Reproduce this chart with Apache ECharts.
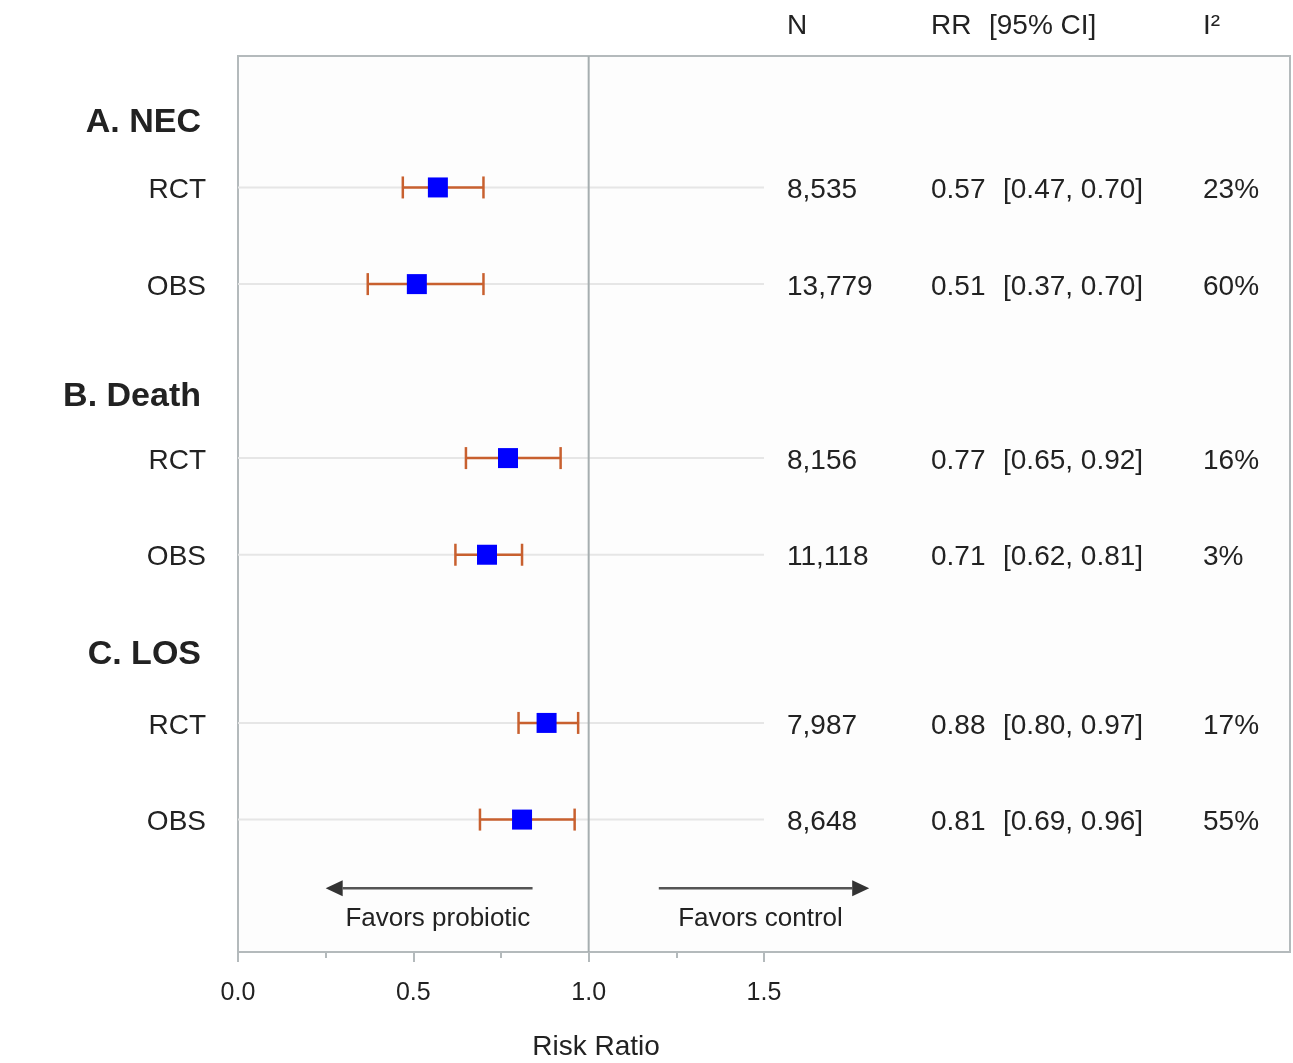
<!DOCTYPE html>
<html>
<head>
<meta charset="utf-8">
<title>Probiotics forest plot</title>
<script src="https://cdn.jsdelivr.net/npm/echarts@6/dist/echarts.min.js"></script>
<style>
html, body { margin: 0; padding: 0; background: #fff; }
#chart { width: 1293px; height: 1063px; }
</style>
</head>
<body>
<div id="chart"></div>
<script>
// data
var groupNames = ['A. NEC', 'B. Death', 'C. LOS'];
var studyTypes = ['RCT', 'OBS', 'RCT', 'OBS', 'RCT', 'OBS'];
var rrValues = [0.57, 0.51, 0.77, 0.71, 0.88, 0.81];
var ciLower = [0.47, 0.37, 0.65, 0.62, 0.80, 0.69];
var ciUpper = [0.70, 0.70, 0.92, 0.81, 0.97, 0.96];
var nValues = ['8,535', '13,779', '8,156', '11,118', '7,987', '8,648'];
var i2Values = ['23%', '60%', '16%', '3%', '17%', '55%'];
var xTickValues = [0, 0.5, 1.0, 1.5];
var xMinorTickValues = [0.25, 0.75, 1.25];
var nullValue = 1.0;
var arrowFrom = [0.84, 1.20];
var arrowTo = [0.25, 1.80];
var arrowLabels = ['Favors probiotic', 'Favors control'];

// layout: row slots down the plot (row units), text columns (px)
var rowSlots = [1.36, 2.36, 4.16, 5.16, 6.90, 7.90];
var groupSlots = [0.67, 3.50, 6.17];
var arrowSlot = 8.61;
var arrowLabelAt = [0.57, 1.49];
var yMax = 9.27;
var colN = 787, colRR = 931, colCI = 1003, colI2 = 1203;

var FONT = '"Liberation Sans", Arial, sans-serif';
var textColor = '#222';
var errColor = '#c8602f';
var boxColor = '#b4babc';

function fmt(v) { return v.toFixed(2); }

var rowData = [];
for (var i = 0; i < rrValues.length; i++) {
    rowData.push([rrValues[i], ciLower[i], ciUpper[i], rowSlots[i]]);
}
var groupData = [];
for (var g = 0; g < groupNames.length; g++) {
    groupData.push([0, groupSlots[g]]);
}
var arrowData = [];
for (var a = 0; a < arrowFrom.length; a++) {
    arrowData.push([arrowFrom[a], arrowTo[a], arrowSlot, arrowLabelAt[a]]);
}

function txt(x, y, s, size, align, weight) {
    return {
        type: 'text',
        style: {
            x: x, y: y, text: s, fill: textColor,
            font: (weight || 'normal') + ' ' + size + 'px ' + FONT,
            align: align || 'left', verticalAlign: 'middle'
        }
    };
}

function renderRow(params, api) {
    var i = params.dataIndex;
    var y = api.coord([0, api.value(3)])[1];
    var x0 = api.coord([0, 0])[0];
    var xEnd = api.coord([1.5, 0])[0];
    var xm = api.coord([api.value(0), 0])[0];
    var xLo = api.coord([api.value(1), 0])[0];
    var xHi = api.coord([api.value(2), 0])[0];
    var lineStyle = { stroke: errColor, lineWidth: 2.5 };
    var sq = 20, cap = 11;
    return {
        type: 'group',
        children: [
            { type: 'line', shape: { x1: x0, y1: y, x2: xEnd, y2: y }, style: { stroke: '#e6e6e6', lineWidth: 2 } },
            { type: 'line', shape: { x1: xLo, y1: y, x2: xHi, y2: y }, style: lineStyle },
            { type: 'line', shape: { x1: xLo, y1: y - cap, x2: xLo, y2: y + cap }, style: lineStyle },
            { type: 'line', shape: { x1: xHi, y1: y - cap, x2: xHi, y2: y + cap }, style: lineStyle },
            { type: 'rect', shape: { x: xm - sq / 2, y: y - sq / 2, width: sq, height: sq }, style: { fill: '#0000ff' } },
            txt(x0 - 32, y + 3, studyTypes[i], 28, 'right'),
            txt(colN, y + 3, nValues[i], 28),
            txt(colRR, y + 3, fmt(rrValues[i]), 28),
            txt(colCI, y + 3, '[' + fmt(ciLower[i]) + ', ' + fmt(ciUpper[i]) + ']', 28),
            txt(colI2, y + 3, i2Values[i], 28)
        ]
    };
}

function renderGroup(params, api) {
    var p = api.coord([api.value(0), api.value(1)]);
    return txt(p[0] - 37, p[1] + 2, groupNames[params.dataIndex], 34, 'right', 'bold');
}

function renderArrow(params, api) {
    var from = api.coord([api.value(0), api.value(2)]);
    var to = api.coord([api.value(1), api.value(2)]);
    var labelX = api.coord([api.value(3), api.value(2)])[0];
    var dir = to[0] > from[0] ? 1 : -1;
    var head = 17, hw = 8;
    var y = from[1];
    return {
        type: 'group',
        children: [
            { type: 'line', shape: { x1: from[0], y1: y, x2: to[0] - dir * head, y2: y }, style: { stroke: '#555', lineWidth: 2.5 } },
            { type: 'polygon', shape: { points: [[to[0], y], [to[0] - dir * head, y - hw], [to[0] - dir * head, y + hw]] }, style: { fill: '#333' } },
            txt(labelX, y + 31, arrowLabels[params.dataIndex], 26, 'center')
        ]
    };
}

var chart = echarts.init(document.getElementById('chart'));
chart.setOption({
    backgroundColor: '#ffffff',
    animation: false,
    grid: {
        left: 238, right: 3, top: 56, bottom: 111,
        show: true, borderColor: boxColor, borderWidth: 2, backgroundColor: '#fdfdfd'
    },
    xAxis: [
        {
            type: 'value', min: 0, max: 3, position: 'bottom',
            axisLine: { show: true, onZero: false, lineStyle: { color: boxColor, width: 2 } },
            axisTick: { show: true, customValues: xTickValues, length: 10, lineStyle: { color: boxColor, width: 2 } },
            axisLabel: {
                show: true, customValues: xTickValues, margin: 29,
                fontSize: 25, fontFamily: FONT, color: textColor,
                formatter: function (v) { return v.toFixed(1); }
            },
            splitLine: { show: false }
        },
        {
            type: 'value', min: 0, max: 3, position: 'bottom',
            axisLine: { show: false, onZero: false },
            axisTick: { show: true, customValues: xMinorTickValues, length: 6, lineStyle: { color: boxColor, width: 2 } },
            axisLabel: { show: false },
            splitLine: { show: false }
        }
    ],
    yAxis: {
        type: 'value', min: 0, max: yMax, inverse: true, show: false
    },
    graphic: [
        txt(colN, 26, 'N', 28),
        txt(colRR, 26, 'RR', 28),
        txt(989, 26, '[95% CI]', 28),
        txt(colI2, 26, 'I²', 28),
        { type: 'text', style: { x: 596, y: 1047, text: 'Risk Ratio', fill: textColor, font: 'normal 28px ' + FONT, align: 'center', verticalAlign: 'middle' } }
    ],
    series: [
        {
            type: 'custom', name: 'rows', clip: false, z: 2,
            renderItem: renderRow, data: rowData
        },
        {
            type: 'custom', name: 'groups', clip: false, z: 2,
            renderItem: renderGroup, data: groupData
        },
        {
            type: 'custom', name: 'arrows', clip: false, z: 2,
            renderItem: renderArrow, data: arrowData
        },
        {
            type: 'line', name: 'null line', z: 3, symbol: 'none',
            lineStyle: { color: '#a6aeb0', width: 2 },
            data: [[nullValue, 0], [nullValue, yMax]]
        }
    ]
});
</script>
</body>
</html>
